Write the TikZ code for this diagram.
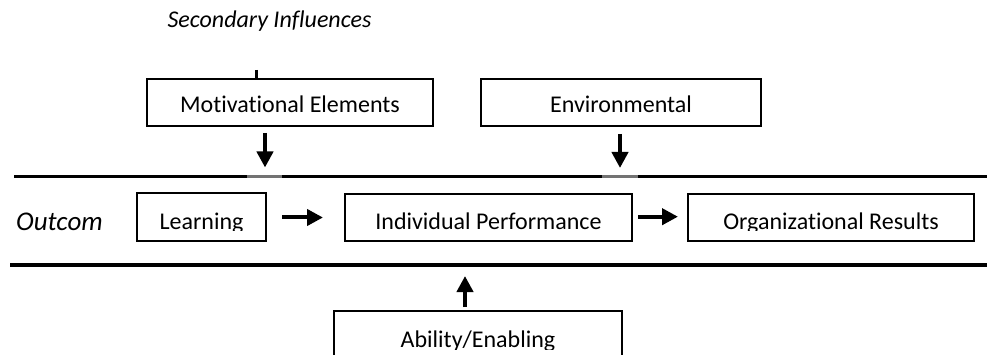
\documentclass[tikz,border=0pt]{standalone}
\usepackage{fontspec}
\setmainfont{Carlito}[Ligatures=NoCommon]
\usetikzlibrary{arrows.meta}
\begin{document}
\begin{tikzpicture}[x=1pt,y=-1pt,
  box/.style={draw=black, line width=1.4pt, inner sep=0pt},
  lbl/.style={font=\fontsize{24}{28}\selectfont, anchor=base, inner sep=0pt},
  ilbl/.style={font=\fontsize{24}{28}\selectfont\itshape, anchor=base, inner sep=0pt},
  rule/.style={line width=3.3pt},
  shade/.style={black!55, line width=3.3pt},
  arr/.style={line width=4pt, -{Triangle[width=16pt,length=16pt]}},
]
\clip (0,0) rectangle (987,355);

% horizontal rules
\coordinate (r1a) at (14,176.7);
\coordinate (r1b) at (987,176.7);
\coordinate (r2a) at (10,265);
\coordinate (r2b) at (987,265);
\draw[rule] (r1a) -- (r1b);
\draw[rule] (r2a) -- (r2b);
\coordinate (g1a) at (247,176.7);
\coordinate (g1b) at (282,176.7);
\coordinate (g2a) at (602,176.7);
\coordinate (g2b) at (638,176.7);
\draw[shade] (g1a) -- (g1b);
\draw[shade] (g2a) -- (g2b);

% title
\node[ilbl] (sec) at (269.5,28) {Secondary Influences};

% boxes
\node[box, minimum width=286pt, minimum height=47pt] (mot) at (290,102.5) {};
\node[box, minimum width=280pt, minimum height=47pt] (env) at (621,102.5) {};
\node[box, minimum width=129pt, minimum height=48pt] (learn) at (201.5,217) {};
\node[box, minimum width=287pt, minimum height=47pt] (ip) at (488.5,217.5) {};
\node[box, minimum width=286pt, minimum height=47pt] (org) at (831,217.5) {};
\node[box, minimum width=288pt, minimum height=69pt] (abil) at (478,345.5) {};

% box texts
\node[lbl] (motT) at (290,113) {Motivational Elements};
\node[lbl] (envT) at (621,113) {Environmental};
\begin{scope}
  \clip (130,185) rectangle (980,231);
  \node[lbl] (learnT) at (201.5,230) {Learning};
  \node[lbl] (ipT) at (488.5,229.5) {Individual Performance};
  \node[lbl] (orgT) at (831,229.5) {Organizational Results};
\end{scope}
\begin{scope}
  \clip (334,300) rectangle (622,349);
  \node[lbl] (abilT) at (478,347.5) {Ability/Enabling};
\end{scope}

\node[ilbl, anchor=base west, font=\fontsize{27}{32}\selectfont\itshape] (out) at (16,231) {Outcom};

% connectors
\coordinate (stub) at (256,70);
\draw[line width=3pt] (stub) -- (stub |- mot.north);

\coordinate (a1s) at (265,133);
\coordinate (a1e) at (265,167.5);
\draw[arr] (a1s) -- (a1e);
\coordinate (a2s) at (620,134);
\coordinate (a2e) at (620,168);
\draw[arr] (a2s) -- (a2e);

\coordinate (a3s) at (282,217.5);
\coordinate (a3e) at (323,217.5);
\draw[arr] (a3s) -- (a3e);
\coordinate (a4s) at (638,216.7);
\coordinate (a4e) at (678,216.7);
\draw[arr] (a4s) -- (a4e);

\coordinate (a5s) at (465,307);
\coordinate (a5e) at (465,276);
\draw[arr] (a5s) -- (a5e);
\end{tikzpicture}
\end{document}
